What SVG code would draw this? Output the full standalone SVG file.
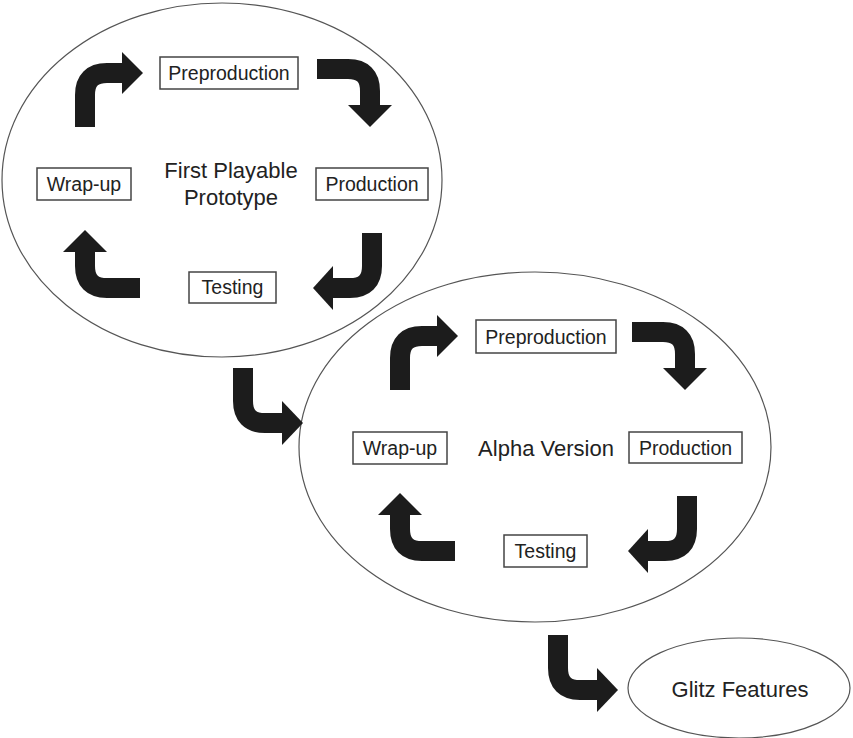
<svg xmlns="http://www.w3.org/2000/svg" width="853" height="738" viewBox="0 0 853 738">
<style>
.ell{fill:none;stroke:#555;stroke-width:1.2}
.box{fill:#fff;stroke:#444;stroke-width:1.5}
.lbl{font-family:"Liberation Sans",Arial,sans-serif;font-size:19.5px;fill:#222;text-anchor:middle}
.ctr{font-family:"Liberation Sans",Arial,sans-serif;font-size:22px;fill:#222;text-anchor:middle}
.shaft{fill:none;stroke:#1c1c1c;stroke-width:20}
.head{fill:#1c1c1c}
</style>
<rect width="853" height="738" fill="#fff"/>
<g id="cycle1">
<ellipse class="ell" cx="222" cy="180" rx="220" ry="177"/>
<text class="ctr" x="231" y="178">First Playable</text>
<text class="ctr" x="231" y="205">Prototype</text>
</g>
<g id="cycle2">
<ellipse class="ell" cx="535" cy="447" rx="236" ry="175"/>
<text class="ctr" x="546" y="456">Alpha Version</text>
</g>
<g id="glitz">
<ellipse class="ell" cx="739" cy="688" rx="111" ry="50"/>
<text class="ctr" x="740" y="697">Glitz Features</text>
</g>
<g id="pre1"><rect class="box" x="160" y="57" width="138" height="32"/><text class="lbl" x="229" y="80">Preproduction</text></g>
<g id="prod1"><rect class="box" x="316" y="168" width="112" height="32"/><text class="lbl" x="372" y="191">Production</text></g>
<g id="wrap1"><rect class="box" x="37" y="168" width="94" height="32"/><text class="lbl" x="84" y="191">Wrap-up</text></g>
<g id="test1"><rect class="box" x="189" y="272" width="87" height="31"/><text class="lbl" x="232.5" y="294">Testing</text></g>
<g id="pre2"><rect class="box" x="476" y="320" width="140" height="33"/><text class="lbl" x="546" y="344">Preproduction</text></g>
<g id="prod2"><rect class="box" x="629" y="432" width="113" height="31"/><text class="lbl" x="685.5" y="455">Production</text></g>
<g id="wrap2"><rect class="box" x="353" y="432" width="94" height="32"/><text class="lbl" x="400" y="455">Wrap-up</text></g>
<g id="test2"><rect class="box" x="504" y="535" width="83" height="32"/><text class="lbl" x="545.5" y="558">Testing</text></g>
<g id="connectors">
<path class="shaft" d="M85,127 V95 Q85,73 107,73 H123"/><polygon class="head" points="122,52 143,73 122,94"/>
<path class="shaft" d="M317,69 H348 Q370,69 370,91 V106"/><polygon class="head" points="348,105 392,105 370,127"/>
<path class="shaft" d="M372,233 V266 Q372,288 350,288 H332"/><polygon class="head" points="333,266 313,288 333,310"/>
<path class="shaft" d="M140,288 H107 Q85,288 85,266 V251"/><polygon class="head" points="63,252 85,230 107,252"/>
<path class="shaft" d="M400,390 V358 Q400,336 422,336 H438"/><polygon class="head" points="437,315 458,336 437,357"/>
<path class="shaft" d="M632,332 H663 Q685,332 685,354 V369"/><polygon class="head" points="663,368 707,368 685,390"/>
<path class="shaft" d="M687,496 V529 Q687,551 665,551 H647"/><polygon class="head" points="648,529 628,551 648,573"/>
<path class="shaft" d="M455,551 H422 Q400,551 400,529 V514"/><polygon class="head" points="378,515 400,493 422,515"/>
<path class="shaft" d="M243,368 V401 Q243,423 265,423 H283"/><polygon class="head" points="282,401 303,423 282,445"/>
<path class="shaft" d="M558,635 V668 Q558,690 580,690 H598"/><polygon class="head" points="597,668 618,690 597,712"/>
</g>
</svg>
